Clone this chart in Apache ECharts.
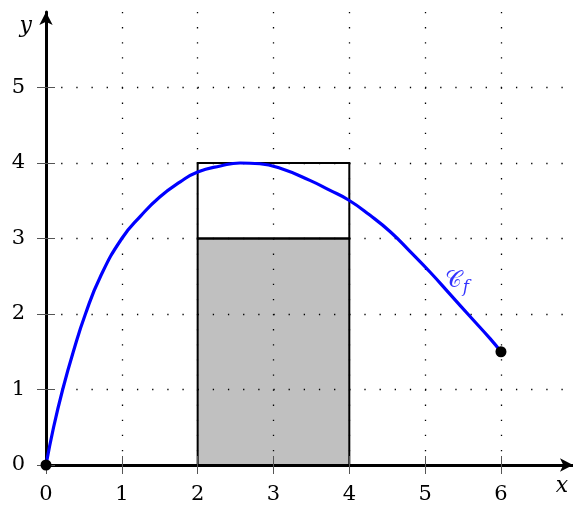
<!DOCTYPE html>
<html>
<head>
<meta charset="utf-8">
<script src="https://cdn.jsdelivr.net/npm/echarts@6/dist/echarts.min.js"></script>
<style>
  html, body { margin: 0; padding: 0; background: #fff; }
  #main { width: 573px; height: 509px; }
</style>
</head>
<body>
<div id="main"></div>
<script>
// curve points
var curveX = [0, 0.1, 0.22, 0.36, 0.52, 0.72, 1.0, 1.25, 1.5, 1.77, 2.0, 2.3, 2.56, 2.82, 3.09, 3.48, 3.74, 3.99, 4.27, 4.54, 4.8, 5.07, 5.33, 5.59, 5.86, 6];
var curveY = [0, 0.5, 1, 1.5, 2, 2.5, 3, 3.3, 3.55, 3.75, 3.88, 3.96, 4.0, 3.99, 3.93, 3.77, 3.64, 3.51, 3.31, 3.09, 2.83, 2.55, 2.26, 1.97, 1.67, 1.5];
var endPoints = [[0, 0], [6, 1.5]];
// rectangles: [x0, x1, y0, y1]
var lowerRect = [2, 4, 0, 3];
var upperRect = [2, 4, 3, 4];
var xTicks = [0, 1, 2, 3, 4, 5, 6];
var yTicks = [0, 1, 2, 3, 4, 5];
var labelPos = [5.42, 2.44];

var curve = curveX.map(function (x, i) { return [x, curveY[i]]; });
var serif = 'DejaVu Serif';

function rectItem(fill) {
    return function (params, api) {
        var p0 = api.coord([api.value(0), api.value(3)]);
        var p1 = api.coord([api.value(1), api.value(2)]);
        return {
            type: 'rect',
            shape: { x: p0[0], y: p0[1], width: p1[0] - p0[0], height: p1[1] - p0[1] },
            style: { fill: fill, stroke: '#000', lineWidth: 2 }
        };
    };
}

var chart = echarts.init(document.getElementById('main'));
chart.setOption({
    animation: false,
    grid: { left: 46, top: 12, width: 527, height: 453 },
    xAxis: [{
        type: 'value', min: 0, max: 6.95, interval: 1,
        axisLine: { lineStyle: { color: '#000', width: 3 }, symbol: ['none', 'arrow'], symbolSize: [10, 13] },
        axisTick: { length: 9, customValues: xTicks, lineStyle: { color: '#555', width: 1 } },
        axisLabel: { customValues: xTicks, margin: 19, color: '#000', fontFamily: serif, fontSize: 21 },
        splitLine: { show: true, lineStyle: { color: '#000', width: 1.3, type: [1.3, 13.8] } },
        name: 'x', nameLocation: 'end', nameGap: -11,
        nameTextStyle: { fontFamily: serif, fontStyle: 'italic', fontSize: 22, color: '#000', align: 'center', verticalAlign: 'top', padding: [10, 0, 0, 0] }
    }, {
        type: 'value', min: 0, max: 6.95, interval: 1, position: 'bottom',
        axisLine: { show: false },
        axisTick: { inside: true, length: 9, customValues: xTicks, lineStyle: { color: '#555', width: 1 } },
        axisLabel: { show: false },
        splitLine: { show: false }
    }],
    yAxis: [{
        type: 'value', min: 0, max: 6, interval: 1,
        axisLine: { lineStyle: { color: '#000', width: 3 }, symbol: ['none', 'arrow'], symbolSize: [10, 13] },
        axisTick: { length: 9, customValues: yTicks, lineStyle: { color: '#555', width: 1 } },
        axisLabel: { customValues: yTicks, margin: 21, color: '#000', fontFamily: serif, fontSize: 21 },
        splitLine: { show: true, lineStyle: { color: '#000', width: 1.3, type: [1.3, 13.86] } },
        name: 'y', nameLocation: 'end', nameGap: -14,
        nameTextStyle: { fontFamily: serif, fontStyle: 'italic', fontSize: 22, color: '#000', align: 'right', verticalAlign: 'middle', padding: [0, 14, 0, 0] }
    }, {
        type: 'value', min: 0, max: 6, interval: 1, position: 'left',
        axisLine: { show: false },
        axisTick: { inside: true, length: 9, customValues: yTicks, lineStyle: { color: '#555', width: 1 } },
        axisLabel: { show: false },
        splitLine: { show: false }
    }],
    series: [{
        type: 'custom', z: -1, silent: true,
        renderItem: rectItem('#c0c0c0'),
        data: [lowerRect]
    }, {
        type: 'custom', z: -1, silent: true,
        renderItem: rectItem('rgba(0,0,0,0)'),
        data: [upperRect]
    }, {
        type: 'line', data: curve, smooth: 0.5, showSymbol: false, z: 5,
        lineStyle: { color: '#0000ff', width: 3.2 }
    }, {
        type: 'scatter', data: endPoints, symbolSize: 11, z: 6,
        itemStyle: { color: '#000', opacity: 1 }
    }, {
        type: 'scatter', data: [labelPos], symbolSize: 0, z: 6,
        label: {
            show: true, position: 'inside',
            formatter: '{c|𝒞}{f|f}',
            rich: {
                c: { color: '#0000ff', fontSize: 23, fontFamily: 'DejaVu Serif' },
                f: { color: '#0000ff', fontSize: 17, fontStyle: 'italic', fontFamily: serif, padding: [14, 0, 0, 1] }
            }
        }
    }]
});
</script>
</body>
</html>
